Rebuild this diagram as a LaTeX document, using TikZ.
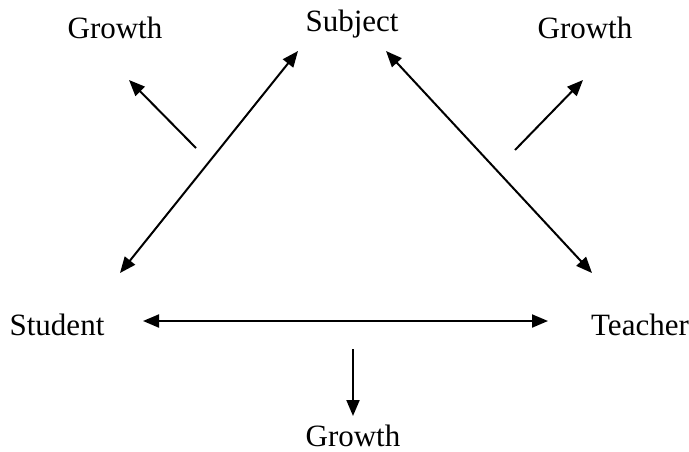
\documentclass[tikz,border=0pt]{standalone}
\usepackage{fontspec}
\setmainfont{Liberation Serif}
\usetikzlibrary{arrows.meta}

\begin{document}
\begin{tikzpicture}[x=0.5pt,y=-0.5pt,
    lbl/.style={font=\fontsize{15.5}{18}\selectfont, inner sep=0pt, anchor=base},
    arr/.style={line width=1pt, -{Triangle[length=8pt,width=6.5pt]}},
    dblarr/.style={line width=1pt, {Triangle[length=8pt,width=6.5pt]}-{Triangle[length=8pt,width=6.5pt]}}]
    \useasboundingbox (0,0) rectangle (689,451);
    % Corners
    \node[lbl] (subject) at (352,31) {Subject};
    \node[lbl] (student) at (57,335) {Student};
    \node[lbl] (teacher) at (640,335) {Teacher};
    % Growth labels
    \node[lbl] (growthL) at (115,38) {Growth};
    \node[lbl] (growthR) at (585,38) {Growth};
    \node[lbl] (growthB) at (353,446) {Growth};

    % Arrow ends
    \coordinate (stA) at (120,273);
    \coordinate (suA) at (298,51);
    \coordinate (suB) at (386,51);
    \coordinate (teA) at (592,273);
    \coordinate (stC) at (143,321);
    \coordinate (teC) at (548,321);
    \coordinate (gL0) at (196,148);
    \coordinate (gL1) at (129,80);
    \coordinate (gR0) at (515,150);
    \coordinate (gR1) at (583,80);
    \coordinate (gB0) at (353,349);
    \coordinate (gB1) at (353,416);

    % Two-way links
    \draw[dblarr] (stA) -- (suA);
    \draw[dblarr] (suB) -- (teA);
    \draw[dblarr] (stC) -- (teC);
    % Growth arrows
    \draw[arr] (gL0) -- (gL1);
    \draw[arr] (gR0) -- (gR1);
    \draw[arr] (gB0) -- (gB1);
\end{tikzpicture}
\end{document}
